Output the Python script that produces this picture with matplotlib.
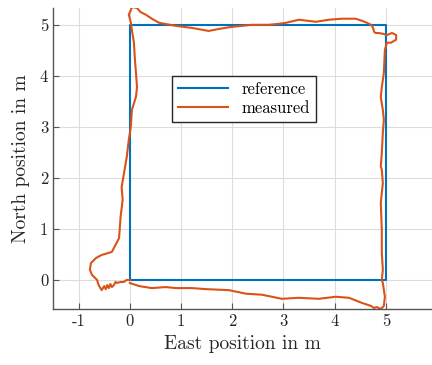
import matplotlib
matplotlib.use("Agg")
import matplotlib.pyplot as plt

plt.rcParams["font.family"] = "serif"
plt.rcParams["font.serif"] = ["cmr10"]
plt.rcParams["mathtext.fontset"] = "cm"
plt.rcParams["axes.unicode_minus"] = False
plt.rcParams["axes.formatter.use_mathtext"] = True

# reference square
ref_east = [0, 5, 5, 0, 0]
ref_north = [0, 0, 5, 5, 0]

# axis ticks
x_ticks = [-1, 0, 1, 2, 3, 4, 5]
x_tick_labels = ["-1", "0", "1", "2", "3", "4", "5"]
y_ticks = [0, 1, 2, 3, 4, 5]
y_tick_labels = ["0", "1", "2", "3", "4", "5"]

# measured track
meas_east = [
    0.00, 0.18, 0.43, 0.70, 0.90, 1.21, 1.48, 1.93, 2.27, 2.58, 2.97, 3.30,
    3.69, 4.02, 4.28, 4.38, 4.53, 4.71, 4.77, 4.82, 4.90, 4.96, 4.98, 4.94,
    4.92, 4.94, 4.92, 4.92, 4.90, 4.94, 4.92, 4.90, 4.92, 4.94, 4.96, 4.94,
    4.90, 4.92, 4.96, 4.98, 5.02, 5.10, 5.20, 5.20, 5.12, 5.02, 4.96, 4.86,
    4.80, 4.77, 4.75, 4.71, 4.63, 4.53, 4.41, 4.14, 3.89, 3.63, 3.30, 3.05,
    2.91, 2.71, 2.38, 1.99, 1.74, 1.54, 1.21, 0.90, 0.57, 0.43, 0.31, 0.21,
    0.14, 0.04, 0.02, -0.02, 0.02, 0.04, 0.08, 0.10, 0.12, 0.14, 0.12, 0.04,
    0.02, -0.02, -0.06, -0.08, -0.16, -0.14, -0.18, -0.21, -0.35, -0.41, -0.55,
    -0.66, -0.76, -0.78, -0.74, -0.64, -0.61, -0.55, -0.50, -0.47, -0.44,
    -0.41, -0.38, -0.35, -0.31, -0.28, -0.25, -0.18, -0.12, -0.06, 0.00,
]
meas_north = [
    -0.06, -0.12, -0.16, -0.14, -0.16, -0.16, -0.18, -0.20, -0.27, -0.29,
    -0.37, -0.35, -0.37, -0.33, -0.35, -0.39, -0.45, -0.51, -0.55, -0.53,
    -0.57, -0.51, -0.33, -0.06, 0.00, 0.20, 0.53, 0.98, 1.51, 1.90, 2.16,
    2.22, 2.49, 2.88, 3.14, 3.33, 3.59, 3.78, 4.06, 4.51, 4.65, 4.65, 4.71,
    4.80, 4.84, 4.80, 4.82, 4.84, 4.84, 4.86, 4.94, 5.00, 5.04, 5.08, 5.12,
    5.12, 5.10, 5.06, 5.10, 5.04, 5.02, 5.00, 5.00, 4.96, 4.92, 4.88, 4.94,
    4.98, 5.04, 5.12, 5.20, 5.25, 5.33, 5.35, 5.29, 5.20, 5.04, 4.90, 4.65,
    4.31, 4.06, 3.78, 3.59, 3.33, 3.00, 2.75, 2.41, 2.29, 1.82, 1.57, 1.24,
    0.82, 0.55, 0.53, 0.49, 0.43, 0.33, 0.20, 0.10, 0.00, -0.10, -0.20,
    -0.12, -0.18, -0.10, -0.16, -0.08, -0.14, -0.10, -0.04, -0.06, -0.04,
    -0.04, 0.00, 0.00,
]

fig = plt.figure(figsize=(4.32, 3.65), dpi=100)
ax = fig.add_axes([0.1227, 0.1534, 0.8773, 0.8247])

ax.plot(ref_east, ref_north, color="#0072BD", linewidth=1.5, label="reference")
ax.plot(meas_east, meas_north, color="#D95319", linewidth=1.5, label="measured")

ax.set_xlim(-1.5, 5.9)
ax.set_ylim(-0.57, 5.33)
ax.set_xticks(x_ticks)
ax.set_xticklabels(x_tick_labels)
ax.set_yticks(y_ticks)
ax.set_yticklabels(y_tick_labels)

ax.grid(True, color="#dcdcdc", linewidth=0.8)
ax.set_axisbelow(True)
for side in ["top", "right"]:
    ax.spines[side].set_visible(False)
for side in ["left", "bottom"]:
    ax.spines[side].set_color("#555555")
    ax.spines[side].set_linewidth(1.0)
ax.tick_params(direction="in", length=4, colors="#555555", labelcolor="#262626",
               labelsize=12)

ax.set_xlabel("East position in m", fontsize=14, color="#262626")
ax.set_ylabel("North position in m", fontsize=14, color="#262626", labelpad=7)

ax.legend(loc="center", bbox_to_anchor=(0.504, 0.698), fontsize=12,
          fancybox=False, edgecolor="#262626", framealpha=1.0,
          handlelength=3.0, borderpad=0.35, labelspacing=0.25)

fig.savefig("out.png", dpi=100)
